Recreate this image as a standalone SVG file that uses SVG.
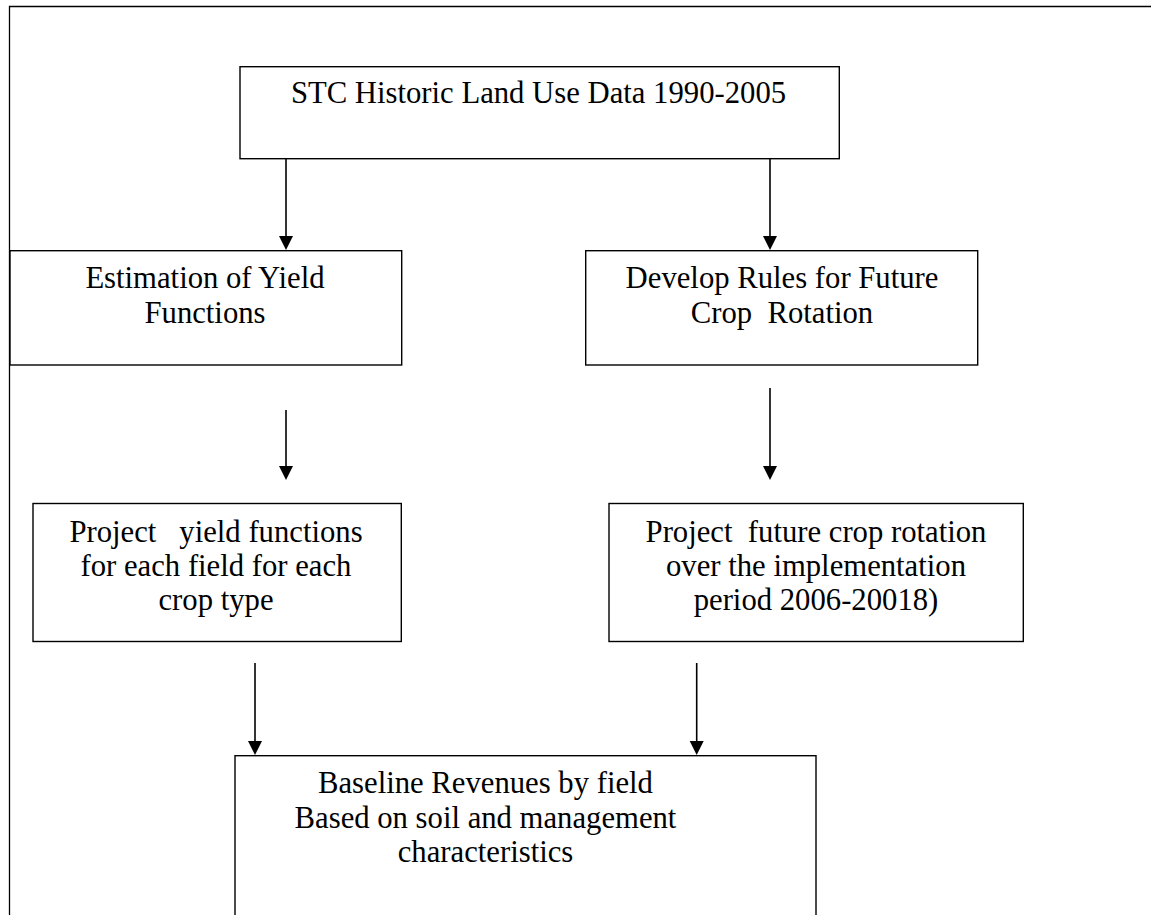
<svg xmlns="http://www.w3.org/2000/svg" width="1151" height="915" viewBox="0 0 1151 915">
<style>
.box{fill:#fff;stroke:#000;stroke-width:1.4}
.frame{fill:none;stroke:#000;stroke-width:1.3}
.t{font-family:"Liberation Serif","Times New Roman",serif;font-size:30.7px;fill:#000;text-anchor:middle;white-space:pre}
.ln{stroke:#000;stroke-width:1.6;fill:none}
.hd{fill:#000;stroke:none}
</style>
<rect width="1151" height="915" fill="#fff"/>
<path class="frame" d="M9.5,915 L9.5,6.5 L1151,6.5"/>
<g id="n1"><rect class="box" x="240" y="66.7" width="599.3" height="92"/>
<text class="t" x="538.5" y="103" xml:space="preserve">STC Historic Land Use Data 1990-2005</text></g>
<g id="n2"><rect class="box" x="10" y="250.7" width="391.7" height="114.3"/>
<text class="t" x="205" y="288" xml:space="preserve">Estimation of Yield</text>
<text class="t" x="205" y="322.7" xml:space="preserve">Functions</text></g>
<g id="n3"><rect class="box" x="585.7" y="250.7" width="392" height="114.3"/>
<text class="t" x="782" y="288" xml:space="preserve">Develop Rules for Future</text>
<text class="t" x="782" y="322.7" xml:space="preserve">Crop  Rotation</text></g>
<g id="n4"><rect class="box" x="33" y="503.5" width="368.3" height="138"/>
<text class="t" x="216" y="541.7" xml:space="preserve">Project   yield functions</text>
<text class="t" x="216" y="575.5" xml:space="preserve">for each field for each</text>
<text class="t" x="216" y="610" xml:space="preserve">crop type</text></g>
<g id="n5"><rect class="box" x="609" y="503.5" width="414.3" height="138"/>
<text class="t" x="816" y="541.7" xml:space="preserve">Project  future crop rotation</text>
<text class="t" x="816" y="575.5" xml:space="preserve">over the implementation</text>
<text class="t" x="816" y="610" xml:space="preserve">period 2006-20018)</text></g>
<g id="n6"><rect class="box" x="235" y="755.7" width="581" height="180"/>
<text class="t" x="485.5" y="793.3" xml:space="preserve">Baseline Revenues by field</text>
<text class="t" x="485.5" y="828.3" xml:space="preserve">Based on soil and management</text>
<text class="t" x="485.5" y="861.7" xml:space="preserve">characteristics</text></g>
<g id="connectors">
<path class="ln" d="M286,159 V240"/>
<path class="ln" d="M770,159 V240"/>
<path class="ln" d="M286,410 V470"/>
<path class="ln" d="M770,388 V470"/>
<path class="ln" d="M255,663 V745"/>
<path class="ln" d="M696.7,663 V745"/>
<path class="hd" d="M279,236 H293 L286,250 Z"/>
<path class="hd" d="M763,236 H777 L770,250 Z"/>
<path class="hd" d="M279,466 H293 L286,480 Z"/>
<path class="hd" d="M763,466 H777 L770,480 Z"/>
<path class="hd" d="M248,741 H262 L255,755 Z"/>
<path class="hd" d="M689.7,741 H703.7 L696.7,755 Z"/>
</g>
</svg>
